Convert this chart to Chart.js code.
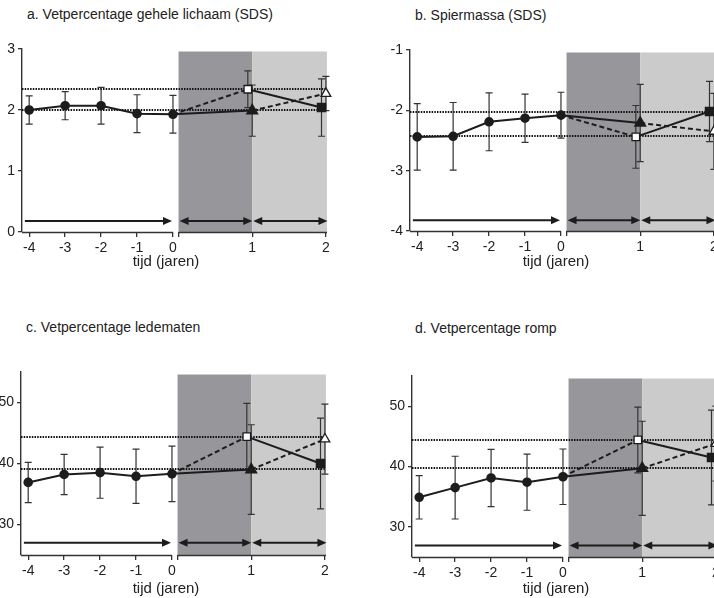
<!DOCTYPE html>
<html>
<head>
<meta charset="utf-8">
<script src="https://cdn.jsdelivr.net/npm/chart.js@4.4.1/dist/chart.umd.min.js"></script>
<style>
  html, body { margin: 0; padding: 0; background: #fff; }
  body { width: 714px; height: 598px; position: relative; overflow: hidden;
         font-family: "Liberation Sans", Arial, sans-serif; color: #222; }
  canvas { position: absolute; }
  .titel { position: absolute; font-size: 14px; white-space: nowrap; }
  .xlabel { position: absolute; font-size: 15px; white-space: nowrap; transform: translateX(-50%); }
</style>
</head>
<body>
<div class="titel" style="left:27px;top:6px">a. Vetpercentage gehele lichaam (SDS)</div>
<div class="titel" style="left:415px;top:7px">b. Spiermassa (SDS)</div>
<div class="titel" style="left:26px;top:319px">c. Vetpercentage ledematen</div>
<div class="titel" style="left:415px;top:320px">d. Vetpercentage romp</div>

<canvas id="chartA"></canvas>
<canvas id="chartB"></canvas>
<canvas id="chartC"></canvas>
<canvas id="chartD"></canvas>

<div class="xlabel" style="left:166px;top:252px">tijd (jaren)</div>
<div class="xlabel" style="left:556px;top:252px">tijd (jaren)</div>
<div class="xlabel" style="left:166px;top:579px">tijd (jaren)</div>
<div class="xlabel" style="left:556px;top:579px">tijd (jaren)</div>

<script>
// tijdas
const jarenVoor = [-4, -3, -2, -1, 0];
const jarenNa = [1, 2];
const xTickLabels = ["-4", "-3", "-2", "-1", "0", "", "1", "2"];

// a. Vetpercentage gehele lichaam (SDS)
const lichaamVoor = [2.00, 2.07, 2.07, 1.94, 1.93];
const lichaamVoorSD = [0.23, 0.23, 0.30, 0.31, 0.31];
const lichaamDriehoek = [1.99, 2.27];   // eerst behandeling, daarna stop
const lichaamDriehoekSD = [0.42, 0.28];
const lichaamVierkant = [2.34, 2.04];   // eerst geen behandeling, daarna wel
const lichaamVierkantSD = [0.30, 0.47];
const lichaamRef = [2.34, 2.00];
const lichaamTicks = [0, 1, 2, 3];

// b. Spiermassa (SDS)
const spierVoor = [-2.44, -2.43, -2.19, -2.13, -2.08];
const spierVoorSD = [0.55, 0.56, 0.48, 0.40, 0.38];
const spierDriehoek = [-2.21, -2.35];
const spierDriehoekSD = [0.64, 0.63];
const spierVierkant = [-2.44, -2.02];
const spierVierkantSD = [0.52, 0.50];
const spierRef = [-2.02, -2.43];
const spierTicks = [-4, -3, -2, -1];

// c. Vetpercentage ledematen
const ledenVoor = [36.9, 38.2, 38.5, 37.9, 38.3];
const ledenVoorSD = [3.3, 3.3, 4.2, 4.45, 4.55];
const ledenDriehoek = [39.0, 44.0];
const ledenDriehoekSD = [7.35, 5.75];
const ledenVierkant = [44.4, 40.0];
const ledenVierkantSD = [5.45, 7.45];
const ledenRef = [44.4, 39.1];
const ledenTicks = [30, 40, 50];

// d. Vetpercentage romp
const rompVoor = [34.9, 36.5, 38.1, 37.4, 38.3];
const rompVoorSD = [3.6, 5.2, 4.75, 4.65, 4.6];
const rompDriehoek = [39.7, 43.8];
const rompDriehoekSD = [7.8, 6.2];
const rompVierkant = [44.4, 41.5];
const rompVierkantSD = [5.45, 7.85];
const rompRef = [44.4, 39.8];
const rompTicks = [30, 40, 50];

// as met onderbreking: rechts van 0 is een jaar ruim twee keer zo breed
const GAP = 0.155, REK = 2.05, DODGE = 0.06;
function pos(jaar, na) { return na ? GAP + jaar * REK : jaar; }
const xTickPos = [...jarenVoor.map(j => pos(j)), GAP, ...jarenNa.map(j => pos(j, true))];

Chart.defaults.font.family = '"Liberation Sans", Arial, sans-serif';
Chart.defaults.font.size = 14;
Chart.defaults.color = "#222";

const ZWART = "#1c1c1c";

function pijl(ctx, xa, xb, y, beide) {
  const kop = 9, h = 4;
  ctx.beginPath();
  ctx.moveTo(xa + (beide ? kop - 1 : 0), y);
  ctx.lineTo(xb - kop + 1, y);
  ctx.stroke();
  ctx.beginPath();
  ctx.moveTo(xb, y); ctx.lineTo(xb - kop, y - h); ctx.lineTo(xb - kop, y + h); ctx.closePath();
  ctx.fill();
  if (beide) {
    ctx.beginPath();
    ctx.moveTo(xa, y); ctx.lineTo(xa + kop, y - h); ctx.lineTo(xa + kop, y + h); ctx.closePath();
    ctx.fill();
  }
}

function maakPaneel(p) {
  const W = 345, H = 49 + p.plotH + 28;
  const cv = document.getElementById(p.id);
  cv.width = W; cv.height = H;
  cv.style.left = p.left + "px"; cv.style.top = p.top + "px";
  cv.style.width = W + "px"; cv.style.height = H + "px";

  const v0 = p.voor[p.voor.length - 1];
  const x1 = pos(1, true), x2 = pos(2, true);
  const x1s = pos(1 - DODGE, true), x2s = pos(2 - DODGE, true);

  const foutbalken = [
    ...jarenVoor.map((j, i) => ({ x: pos(j), y: p.voor[i], sd: p.voorSD[i] })),
    { x: x1s, y: p.vierkant[0], sd: p.vierkantSD[0] },
    { x: x2s, y: p.vierkant[1], sd: p.vierkantSD[1] },
    { x: x1, y: p.driehoek[0], sd: p.driehoekSD[0] },
    { x: x2, y: p.driehoek[1], sd: p.driehoekSD[1] },
  ];

  const decor = {
    id: "decor",
    beforeDatasetsDraw(chart) {
      const ctx = chart.ctx, xs = chart.scales.x, ys = chart.scales.y, ca = chart.chartArea;
      const px0 = xs.getPixelForValue(GAP), px1 = xs.getPixelForValue(x1), px2 = xs.getPixelForValue(x2);
      ctx.save();
      // behandelperiodes
      ctx.fillStyle = "#97979b";
      ctx.fillRect(px0, ca.top + 2.5, px1 - px0, ca.bottom - ca.top - 2.5);
      ctx.fillStyle = "#cbcbcb";
      ctx.fillRect(px1, ca.top + 2.5, px2 + 1 - px1, ca.bottom - ca.top - 2.5);
      // referentielijnen
      ctx.strokeStyle = "#111";
      ctx.lineWidth = 2;
      ctx.setLineDash([1.5, 1.2]);
      p.ref.forEach(r => {
        const y = Math.round(ys.getPixelForValue(r));
        ctx.beginPath(); ctx.moveTo(ca.left, y); ctx.lineTo(ca.right, y); ctx.stroke();
      });
      ctx.setLineDash([]);
      // x-as met onderbreking
      ctx.strokeStyle = "#333";
      ctx.lineWidth = 1.4;
      const yb = ca.bottom + 0.5;
      ctx.beginPath();
      ctx.moveTo(ca.left, yb); ctx.lineTo(xs.getPixelForValue(0), yb);
      ctx.moveTo(px0, yb); ctx.lineTo(ca.right, yb);
      ctx.stroke();
      // foutbalken
      ctx.strokeStyle = "#333";
      ctx.lineWidth = 1.2;
      foutbalken.forEach(f => {
        const x = xs.getPixelForValue(f.x);
        const yt = ys.getPixelForValue(f.y + f.sd), yo = ys.getPixelForValue(f.y - f.sd);
        ctx.beginPath();
        ctx.moveTo(x, yt); ctx.lineTo(x, yo);
        ctx.moveTo(x - 3.5, yt); ctx.lineTo(x + 3.5, yt);
        ctx.moveTo(x - 3.5, yo); ctx.lineTo(x + 3.5, yo);
        ctx.stroke();
      });
      // pijlen onderin
      ctx.strokeStyle = ZWART;
      ctx.fillStyle = ZWART;
      ctx.lineWidth = 2;
      const ya = ys.getPixelForValue(p.pijlY);
      pijl(ctx, xs.getPixelForValue(-4.12), xs.getPixelForValue(0) - 1, ya, false);
      pijl(ctx, px0 + 1, px1, ya, true);
      pijl(ctx, px1 + 1, px2 + 1.5, ya, true);
      ctx.restore();
    }
  };

  const lijn = { borderColor: ZWART, borderWidth: 2, tension: 0, fill: false, pointHoverRadius: 0, clip: false };

  new Chart(cv, {
    type: "line",
    data: {
      datasets: [
        { ...lijn, data: jarenVoor.map((j, i) => ({ x: pos(j), y: p.voor[i] })),
          pointStyle: "circle", pointRadius: 3.8, pointBackgroundColor: ZWART, pointBorderColor: ZWART },
        { ...lijn, borderDash: [5, 3], data: [{ x: 0, y: v0 }, { x: x1s, y: p.vierkant[0] }],
          pointStyle: "rect", pointRadius: [0, 5.3], pointBackgroundColor: "#fff",
          pointBorderColor: ZWART, pointBorderWidth: 1.3 },
        { ...lijn, data: [{ x: 0, y: v0 }, { x: x1, y: p.driehoek[0] }],
          pointStyle: "triangle", pointRadius: [0, 5.6], pointBackgroundColor: ZWART, pointBorderColor: ZWART },
        { ...lijn, data: [{ x: x1s, y: p.vierkant[0] }, { x: x2s, y: p.vierkant[1] }],
          pointStyle: "rect", pointRadius: [0, 5.3], pointBackgroundColor: ZWART, pointBorderColor: ZWART },
        { ...lijn, borderDash: [5, 3], data: [{ x: x1, y: p.driehoek[0] }, { x: x2, y: p.driehoek[1] }],
          pointStyle: "triangle", pointRadius: [0, 5.6], pointBackgroundColor: "#fff",
          pointBorderColor: ZWART, pointBorderWidth: 1.3 },
      ]
    },
    options: {
      responsive: false,
      devicePixelRatio: 1,
      animation: false,
      events: [],
      layout: { padding: { top: 49, right: 18, left: 0, bottom: 0 } },
      plugins: { legend: { display: false }, tooltip: { enabled: false } },
      scales: {
        x: {
          type: "linear",
          min: -4.2,
          max: x2 + 0.03,
          afterBuildTicks: s => { s.ticks = xTickPos.map(v => ({ value: v })); },
          afterFit: s => { s.height = 28; },
          ticks: { autoSkip: false, maxRotation: 0, padding: 3, color: "#222",
                   callback: (v, i) => xTickLabels[i] },
          grid: { drawOnChartArea: false, drawTicks: true, tickLength: 5, color: "#333", lineWidth: 1.3 },
          border: { display: false }
        },
        y: {
          min: p.min,
          max: p.max,
          afterBuildTicks: s => { s.ticks = p.ticks.map(v => ({ value: v })); },
          afterFit: s => { s.width = 22; },
          ticks: { padding: 3, color: "#222" },
          grid: { drawOnChartArea: false, drawTicks: true, tickLength: 4, color: "#333", lineWidth: 1.3 },
          border: { display: true, color: "#333", width: 1.4 }
        }
      }
    },
    plugins: [decor]
  });
}

maakPaneel({ id: "chartA", left: 0, top: 0, plotH: 183, min: 0, max: 3, ticks: lichaamTicks, pijlY: 0.18,
  voor: lichaamVoor, voorSD: lichaamVoorSD, driehoek: lichaamDriehoek, driehoekSD: lichaamDriehoekSD,
  vierkant: lichaamVierkant, vierkantSD: lichaamVierkantSD, ref: lichaamRef });
maakPaneel({ id: "chartB", left: 388, top: 1, plotH: 181, min: -4, max: -1, ticks: spierTicks, pijlY: -3.82,
  voor: spierVoor, voorSD: spierVoorSD, driehoek: spierDriehoek, driehoekSD: spierDriehoekSD,
  vierkant: spierVierkant, vierkantSD: spierVierkantSD, ref: spierRef });
maakPaneel({ id: "chartC", left: -1, top: 323, plotH: 183, min: 25, max: 55, ticks: ledenTicks, pijlY: 27.0,
  voor: ledenVoor, voorSD: ledenVoorSD, driehoek: ledenDriehoek, driehoekSD: ledenDriehoekSD,
  vierkant: ledenVierkant, vierkantSD: ledenVierkantSD, ref: ledenRef });
maakPaneel({ id: "chartD", left: 390, top: 327, plotH: 181, min: 25, max: 55, ticks: rompTicks, pijlY: 26.9,
  voor: rompVoor, voorSD: rompVoorSD, driehoek: rompDriehoek, driehoekSD: rompDriehoekSD,
  vierkant: rompVierkant, vierkantSD: rompVierkantSD, ref: rompRef });
</script>
</body>
</html>
